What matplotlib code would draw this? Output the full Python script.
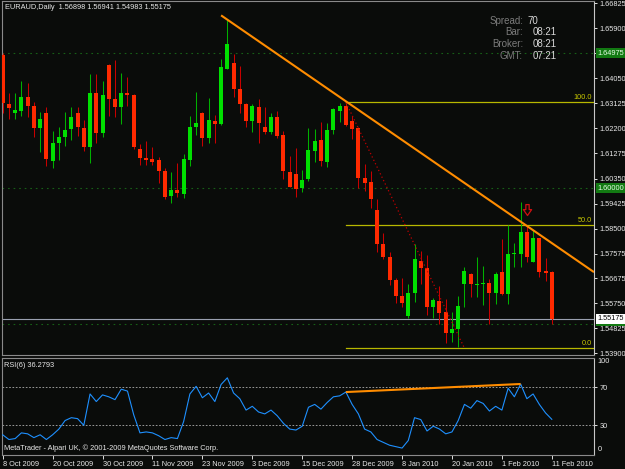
import matplotlib
matplotlib.use('Agg')
import matplotlib.pyplot as plt
from matplotlib.path import Path
from matplotlib.transforms import blended_transform_factory as btf

# ---------------- data ----------------
opens = [1.6491, 1.6310, 1.6278, 1.6285, 1.6335, 1.6304, 1.6223, 1.6278, 1.6101, 1.6165,
         1.6187, 1.6217, 1.6278, 1.6223, 1.6152, 1.6349, 1.6202, 1.6454, 1.6327, 1.6300,
         1.6349, 1.6343, 1.6143, 1.6111, 1.6106, 1.6103, 1.6064, 1.5972, 1.5993, 1.5978,
         1.6103, 1.6224, 1.6276, 1.6183, 1.6248, 1.6236, 1.6438, 1.6462, 1.6364, 1.6309,
         1.6248, 1.6300, 1.6224, 1.6208, 1.6263, 1.6194, 1.6060, 1.6051, 1.5999, 1.6032,
         1.6138, 1.6177, 1.6097, 1.6214, 1.6285, 1.6303, 1.6248, 1.6220, 1.6038, 1.6023,
         1.5919, 1.5792, 1.5746, 1.5661, 1.5603, 1.5528, 1.5614, 1.5732, 1.5704, 1.5562,
         1.5583, 1.5544, 1.5464, 1.5480, 1.5646, 1.5683, 1.5642, 1.5646, 1.5648, 1.5614,
         1.5689, 1.5609, 1.5756, 1.5756, 1.5839, 1.5728, 1.5814, 1.5693, 1.56898]
highs = [1.6497, 1.6349, 1.6352, 1.6395, 1.6389, 1.6318, 1.6282, 1.6298, 1.6211, 1.6224,
         1.6279, 1.6300, 1.6300, 1.6251, 1.6421, 1.6420, 1.6395, 1.6458, 1.6472, 1.6423,
         1.6411, 1.6347, 1.6162, 1.6175, 1.6152, 1.6115, 1.6073, 1.6059, 1.6093, 1.6125,
         1.6266, 1.6355, 1.6282, 1.6331, 1.6269, 1.6476, 1.6624, 1.6493, 1.6450, 1.6315,
         1.6309, 1.6327, 1.6300, 1.6276, 1.6284, 1.6211, 1.6118, 1.6146, 1.6066, 1.6220,
         1.6217, 1.6242, 1.6241, 1.6295, 1.6315, 1.6315, 1.6266, 1.6225, 1.6089, 1.6063,
         1.5958, 1.5833, 1.5765, 1.5667, 1.5667, 1.5646, 1.5793, 1.5768, 1.5753, 1.5595,
         1.5638, 1.5590, 1.5541, 1.5601, 1.5707, 1.5685, 1.5744, 1.5712, 1.5663, 1.5691,
         1.5811, 1.5863, 1.5796, 1.5949, 1.5863, 1.5845, 1.5816, 1.5743, 1.56941]
lows = [1.6276, 1.6254, 1.6256, 1.6266, 1.6263, 1.6189, 1.6134, 1.6082, 1.6075, 1.6103,
        1.6155, 1.6177, 1.6192, 1.6137, 1.6093, 1.6167, 1.6187, 1.6266, 1.6263, 1.6236,
        1.6303, 1.6143, 1.6085, 1.6086, 1.6086, 1.6017, 1.5958, 1.5946, 1.5966, 1.5964,
        1.6082, 1.6196, 1.6155, 1.6165, 1.6167, 1.6232, 1.6438, 1.6337, 1.6278, 1.6224,
        1.6208, 1.6167, 1.6199, 1.6199, 1.6183, 1.6033, 1.6003, 1.5966, 1.5986, 1.6027,
        1.6097, 1.6081, 1.6076, 1.6199, 1.6245, 1.6229, 1.6181, 1.5999, 1.5990, 1.5925,
        1.5765, 1.5737, 1.5642, 1.5575, 1.5560, 1.5519, 1.5580, 1.5646, 1.5531, 1.5521,
        1.5498, 1.5427, 1.5431, 1.5414, 1.5560, 1.5599, 1.5599, 1.5567, 1.5497, 1.5572,
        1.5605, 1.5572, 1.5710, 1.5710, 1.5728, 1.5727, 1.5670, 1.5657, 1.54983]
closes = [1.6313, 1.6294, 1.6288, 1.6335, 1.6304, 1.6223, 1.6255, 1.6106, 1.6165, 1.6189,
          1.6214, 1.6263, 1.6224, 1.6152, 1.6349, 1.6202, 1.6343, 1.6327, 1.6300, 1.6349,
          1.6343, 1.6150, 1.6110, 1.6103, 1.6097, 1.6063, 1.5968, 1.5993, 1.5980, 1.6106,
          1.6225, 1.6239, 1.6186, 1.6251, 1.6236, 1.6445, 1.6531, 1.6364, 1.6309, 1.6248,
          1.6303, 1.6239, 1.6208, 1.6263, 1.6193, 1.6064, 1.6005, 1.5997, 1.6030, 1.6140,
          1.6173, 1.6101, 1.6214, 1.6290, 1.6304, 1.6231, 1.6219, 1.6038, 1.6020, 1.5960,
          1.5792, 1.5744, 1.5661, 1.5603, 1.5577, 1.5614, 1.5737, 1.5704, 1.5562, 1.5587,
          1.5540, 1.5464, 1.5480, 1.5566, 1.5695, 1.5646, 1.5646, 1.5651, 1.5611, 1.5683,
          1.5609, 1.5756, 1.5759, 1.5839, 1.5746, 1.5814, 1.5691, 1.5687, 1.55175]
rsi = [20, 15, 16, 22, 21, 17, 20, 15, 20, 26,
       35, 38, 37, 30, 63, 55, 62, 60, 57, 68,
       66, 41, 22, 23, 22, 19, 15, 17, 16, 34,
       63, 71, 59, 64, 55, 73, 80, 64, 58, 46,
       50, 44, 42, 46, 40, 32, 26, 25, 29, 49,
       52, 47, 54, 60, 61, 65, 52, 42, 26, 23,
       15, 12, 9, 7.5, 6, 14, 38, 36, 24, 29,
       26, 21, 23, 35, 52, 48, 56, 53, 45, 50,
       46, 69, 60, 73.5, 58, 63, 52, 43, 36.28]

date_labels = ['8 Oct 2009', '20 Oct 2009', '30 Oct 2009', '11 Nov 2009', '23 Nov 2009',
               '3 Dec 2009', '15 Dec 2009', '28 Dec 2009', '8 Jan 2010', '20 Jan 2010',
               '1 Feb 2010', '11 Feb 2010']
date_bars = [0, 8, 16, 24, 32, 40, 48, 56, 64, 72, 80, 88]
price_ticks = [1.66825, 1.65900, 1.64975, 1.64050, 1.63125, 1.62200, 1.61275, 1.60350,
               1.59425, 1.58500, 1.57575, 1.56675, 1.55750, 1.54825, 1.53900]

trend_bars = [35, 83]
trend_prices = [1.6637, 1.5876]
fib_bars = [55, 74]
fib_prices = [1.6316, 1.5409]
fib_levels = [0.0, 50.0, 100.0]
green_levels = [1.64975, 1.60000, 1.55000]
bid = 1.55175
rsi_trend_bars = [55, 83]
rsi_trend_vals = [65, 73.5]
arrow_bar, arrow_price = 84, 1.5919

# ---------------- figure ----------------
W, H = 625, 469
BG = '#0a0c0a'
FONT = ['Liberation Sans', 'DejaVu Sans']
plt.rcParams['font.family'] = FONT

fig = plt.figure(figsize=(W / 100, H / 100), dpi=100, facecolor=BG)

def ax_rect(x0, y0, x1, y1):
    return [x0 / W, 1 - y1 / H, (x1 - x0) / W, (y1 - y0) / H]

ax = fig.add_axes(ax_rect(2, 1, 594, 355))
ar = fig.add_axes(ax_rect(2, 357.5, 594, 455))
for a in (ax, ar):
    a.set_facecolor(BG)
    for s in a.spines.values():
        s.set_color('#8a8a8a')
        s.set_linewidth(0.8)
    a.spines['right'].set_color('#c8c8c8')

n = len(closes)
xs = list(range(n))
XL = (-0.11, 94.76)
ax.set_xlim(*XL)
ar.set_xlim(*XL)
ax.set_ylim(1.53838, 1.66900)
ar.set_ylim(-1.3, 101.4)

# candles
bw = 0.64
for i in xs:
    o, h, l, c = opens[i], highs[i], lows[i], closes[i]
    up = c >= o
    body_c = '#00e000' if up else '#ff2a00'
    wick_c = '#00b000' if up else '#c80000'
    ax.vlines(i, l, h, color=wick_c, lw=0.75, zorder=3)
    bot = min(o, c)
    hgt = max(abs(c - o), 0.00035)
    ax.bar(i, hgt, bottom=bot, width=bw, color=body_c, edgecolor='none', zorder=4)

# green dotted levels
for g in green_levels:
    ax.axhline(g, color='#176017', lw=0.8, ls=(0, (1.5, 3.5)), zorder=1)

# bid line
ax.axhline(bid, color='#9aa0b0', lw=0.8, zorder=2)

# fibonacci
fx0 = fib_bars[0]
for lv in fib_levels:
    p = fib_prices[1] + (fib_prices[0] - fib_prices[1]) * lv / 100.0
    ax.plot([fx0, XL[1]], [p, p], color='#b8b800', lw=0.9, zorder=2)
    ax.text(XL[1] - 0.3, p + 0.0004, f'{lv:.1f}', color='#c8c800', fontsize=5.3,
            ha='right', va='bottom', zorder=5)
ax.plot(fib_bars, fib_prices, color='#c00000', lw=0.9, ls=(0, (1, 2)), zorder=5)

# orange trend line (ray)
slope = (trend_prices[1] - trend_prices[0]) / (trend_bars[1] - trend_bars[0])
ax.plot([trend_bars[0], XL[1]],
        [trend_prices[0], trend_prices[0] + slope * (XL[1] - trend_bars[0])],
        color='#ff8c00', lw=1.5, zorder=6, solid_capstyle='butt')

# hollow down arrow
arrow_path = Path([(-0.28, 1.0), (0.28, 1.0), (0.28, 0.15), (0.7, 0.15), (0.0, -0.85),
                   (-0.7, 0.15), (-0.28, 0.15), (-0.28, 1.0)],
                  [Path.MOVETO] + [Path.LINETO] * 6 + [Path.CLOSEPOLY])
ax.plot([arrow_bar], [arrow_price], marker=arrow_path, ms=8.5, mfc='none',
        mec='#d01010', mew=0.9, zorder=7)

# price axis
ax.set_xticks([])
ax.set_yticks(price_ticks)
ax.set_yticklabels(['' if abs(p - 1.64975) < 1e-9 else f'{p:.5f}' for p in price_ticks])
ax.tick_params(axis='y', left=False, labelleft=False, right=True, labelright=True,
               direction='out', length=2.5, width=0.7, color='#e0e0e0',
               labelsize=5.3, labelcolor='#e8e8e8', pad=1.5)

tr = btf(ax.transAxes, ax.transData)
def boxlabel(price, text, fc, tc):
    ax.text(1.0055, price, text, transform=tr, fontsize=5.3, color=tc, ha='left',
            va='center', clip_on=False, zorder=10,
            bbox=dict(boxstyle='square,pad=0.18', fc=fc, ec='none'))
boxlabel(1.64975, '1.64975', '#127a12', '#e8ffe8')
boxlabel(1.60000, '1.60000', '#127a12', '#e8ffe8')
# partially hidden green box under the bid label (no readable text)
ax.add_patch(plt.Rectangle((1.0035, 1.5490), 0.052, 0.0019, transform=tr,
                           fc='#127a12', ec='none', clip_on=False, zorder=9))
boxlabel(bid, '1.55175', '#ffffff', '#000000')

# header texts
fig.text(5 / W, 1 - 7.5 / H, 'EURAUD,Daily  1.56898 1.56941 1.54983 1.55175',
         color='#e8e8e8', fontsize=5.3, ha='left', va='center')
info = [('Spread:', '70', 20.7, 527.5), ('Bar:', '08:21', 32.3, 532.5),
        ('Broker:', '08:21', 44.0, 532.5), ('GMT:', '07:21', 55.7, 532.5)]
for lab, val, yy, vx in info:
    fig.text(523 / W, 1 - yy / H, lab, color='#7c7c7c', fontsize=7, ha='right', va='center')
    fig.text(vx / W, 1 - yy / H, val, color='#d8d8d8', fontsize=7, ha='left', va='center')

# RSI panel
ar.plot(xs, rsi, color='#1e90ff', lw=0.8, zorder=4)
ar.plot(rsi_trend_bars, rsi_trend_vals, color='#ff8c00', lw=1.5, zorder=5,
        solid_capstyle='butt')
for lv in (70, 30):
    ar.axhline(lv, color='#b0b0b0', lw=0.6, ls=(0, (2, 2)), zorder=2)
ar.set_yticks([70, 30])
ar.set_yticklabels(['70', '30'])
ar.tick_params(axis='y', left=False, labelleft=False, right=True, labelright=True,
               direction='out', length=2.5, width=0.7, color='#e0e0e0',
               labelsize=5.3, labelcolor='#e8e8e8', pad=1.5)
trr = btf(ar.transAxes, ar.transData)
ar.text(1.0065, 97.0, '100', transform=trr, fontsize=5.3, color='#e8e8e8',
        ha='left', va='center', clip_on=False)
ar.text(1.0065, 4.0, '0', transform=trr, fontsize=5.3, color='#e8e8e8',
        ha='left', va='center', clip_on=False)
ar.text(0.004, 0.92, 'RSI(6) 36.2793', transform=ar.transAxes, fontsize=5.3,
        color='#e8e8e8', ha='left', va='center')
ar.text(0.004, 0.065, 'MetaTrader - Alpari UK, \u00a9 2001-2009 MetaQuotes Software Corp.',
        transform=ar.transAxes, fontsize=5.3, color='#e8e8e8', ha='left', va='center')

ar.set_xticks(date_bars)
ar.set_xticklabels(date_labels, ha='left')
ar.tick_params(axis='x', direction='out', length=3, width=0.7, color='#e0e0e0',
               labelsize=5.3, labelcolor='#e8e8e8', pad=1.5)

fig.savefig('out.png', dpi=100, facecolor=BG)
